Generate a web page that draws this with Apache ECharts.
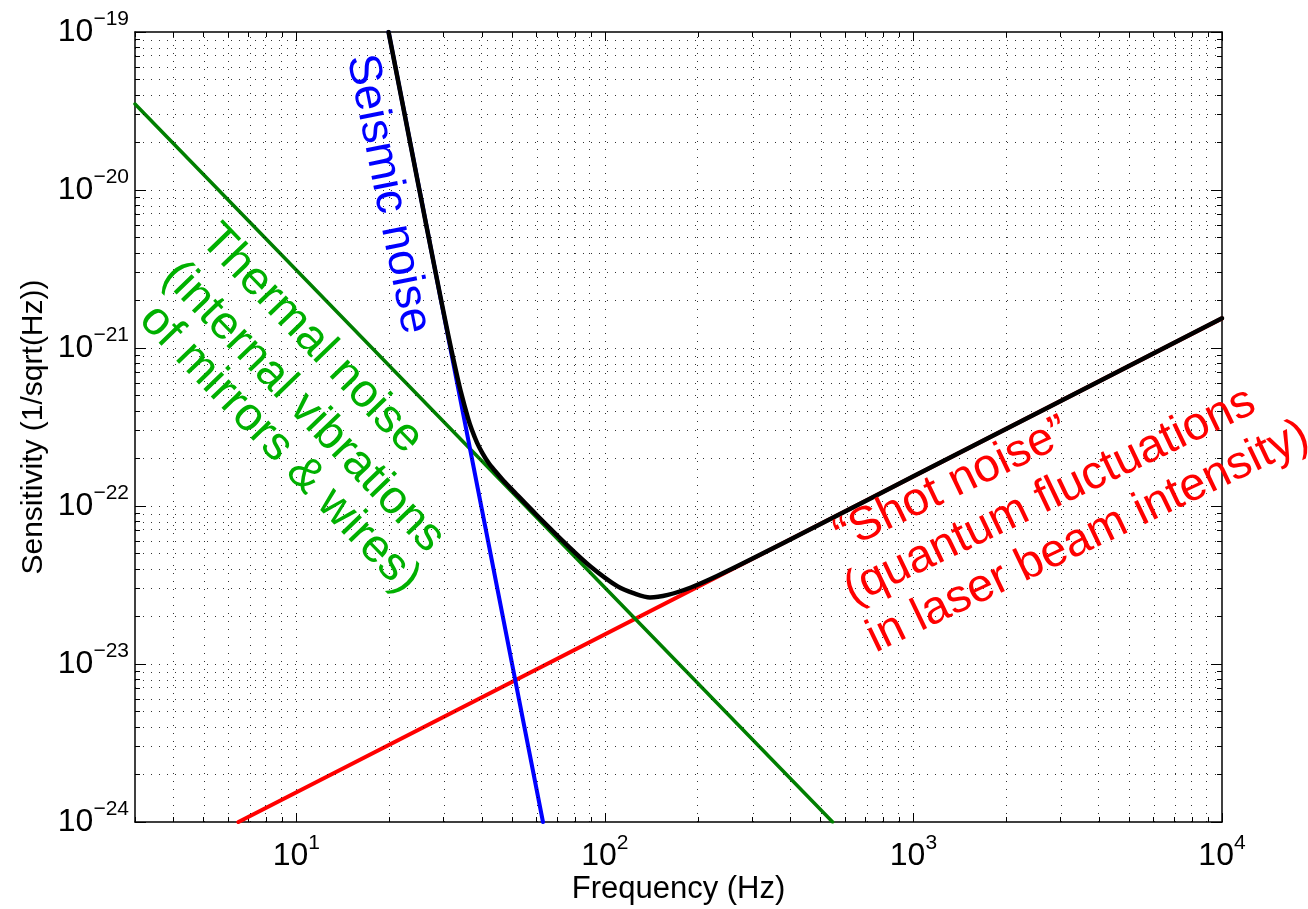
<!DOCTYPE html>
<html>
<head>
<meta charset="utf-8">
<script src="https://cdn.jsdelivr.net/npm/echarts@6/dist/echarts.min.js"></script>
<style>
html,body{margin:0;padding:0;background:#ffffff;}
#chart{width:1308px;height:909px;}
</style>
</head>
<body>
<div id="chart"></div>
<script>
// ---- data ----
const seismicFreq = [19.9, 63];
const seismicSens = [1e-19, 1e-24];
const thermalFreq = [3, 547];
const thermalSens = [3.5e-20, 1e-24];
const shotFreq = [6.49, 10000];
const shotSens = [1e-24, 1.54e-21];
const totalFreq = [19.9, 22, 25, 28, 31, 33, 34, 36, 37, 38.5, 40, 42, 44, 47, 50, 60, 75, 90, 110, 125, 140, 160, 190, 230, 300, 500, 1000, 10000];
const totalSens = [1e-19, 3.67e-20, 1.02e-20, 3.31e-21, 1.23e-21, 6.99e-22, 5.44e-22, 3.6e-22, 3.06e-22, 2.52e-22, 2.18e-22, 1.87e-22, 1.67e-22, 1.44e-22, 1.27e-22, 8.8e-23, 5.72e-23, 4.13e-23, 3.1e-23, 2.79e-23, 2.64e-23, 2.74e-23, 3.05e-23, 3.59e-23, 4.63e-23, 7.7e-23, 1.54e-22, 1.54e-21];
const xRange = [3, 10000];
const yRange = [1e-24, 1e-19];
const xTickExponents = [1, 2, 3, 4];
const yTickExponents = [-24, -23, -22, -21, -20, -19];
const xTitle = 'Frequency (Hz)';
const yTitle = 'Sensitivity (1/sqrt(Hz))';
const seismicLines = ['Seismic noise'];
const thermalLines = ['Thermal noise', '(internal vibrations', 'of mirrors & wires)'];
const shotLines = ['\u201CShot noise\u201D', '(quantum fluctuations', 'in laser beam intensity)'];

// ---- build ----
const L = Math.log10;
const toPts = (fs, ss) => fs.map((f, i) => [L(f), L(ss[i])]);
const xMin = L(xRange[0]), xMax = L(xRange[1]);
const yMin = L(yRange[0]), yMax = L(yRange[1]);

function decadeTicks(lo, hi, wantMajor) {
  const out = [];
  for (let d = Math.floor(lo) - 1; d <= Math.ceil(hi); d++) {
    for (let k = 1; k <= 9; k++) {
      const v = d + L(k);
      if (v >= lo - 1e-9 && v <= hi + 1e-9) {
        if ((k === 1) === wantMajor) out.push(v);
      }
    }
  }
  return out;
}
const xMajor = xTickExponents.slice();
const xMinor = decadeTicks(xMin, xMax, false);
const yMajor = yTickExponents.slice();
const yMinor = decadeTicks(yMin, yMax, false);

const FONT = "'Liberation Sans', Arial, Helvetica, sans-serif";
const sup = s => s.replace('-', '\u2212');
const richLbl = {
  b: { fontSize: 32, lineHeight: 46, fontFamily: FONT, color: '#000' },
  s: { fontSize: 21, lineHeight: 14, verticalAlign: 'top', fontFamily: FONT, color: '#000' }
};

function mkX(pos, vals, len, withLabels, showLine) {
  return {
    type: 'value', position: pos, min: xMin, max: xMax, gridIndex: 0,
    axisLine: { show: showLine, onZero: false, lineStyle: { color: '#000', width: 1.5 } },
    axisTick: { show: true, inside: true, length: len, customValues: vals, lineStyle: { color: '#000', width: 1 } },
    axisLabel: withLabels ? {
      show: true, customValues: xTickExponents, margin: 11,
      formatter: v => '{b|10}{s|' + sup(String(Math.round(v))) + '}', rich: richLbl
    } : { show: false },
    splitLine: { show: false },
    name: withLabels ? xTitle : '',
    nameLocation: 'middle', nameGap: 52, nameMoveOverlap: false,
    nameTextStyle: { fontSize: 31, fontFamily: FONT, color: '#000' }
  };
}
function mkY(pos, vals, len, withLabels, showLine) {
  return {
    type: 'value', position: pos, min: yMin, max: yMax, interval: 1, gridIndex: 0,
    axisLine: { show: showLine, onZero: false, lineStyle: { color: '#000', width: 1.5 } },
    axisTick: { show: true, inside: true, length: len, customValues: vals, lineStyle: { color: '#000', width: 1 } },
    axisLabel: withLabels ? {
      show: true, customValues: yTickExponents, margin: 6,
      formatter: v => '{b|10}{s|' + sup(String(Math.round(v))) + '}', rich: richLbl
    } : { show: false },
    splitLine: { show: false },
    name: withLabels ? yTitle : '',
    nameLocation: 'middle', nameGap: 86, nameMoveOverlap: false,
    nameTextStyle: { fontSize: 30, fontFamily: FONT, color: '#000' }
  };
}

const gridLines = [];
xMajor.concat(xMinor).forEach(v => { if (v > xMin + 1e-6 && v < xMax - 1e-6) gridLines.push({ xAxis: v }); });
yMajor.concat(yMinor).forEach(v => { if (v > yMin + 1e-6 && v < yMax - 1e-6) gridLines.push({ yAxis: v }); });

const lineSeries = (name, pts, color, width, z, smooth) => ({
  name, type: 'line', data: pts, xAxisIndex: 0, yAxisIndex: 0,
  showSymbol: false, symbol: 'none', clip: true, z, smooth: smooth || false,
  lineStyle: { color, width, cap: 'round', join: 'round' },
  animation: false, silent: true
});

const deg = Math.PI / 180;
function textEl(str, x, y, rotDeg, color, size, align) {
  return { type: 'text', x, y, rotation: rotDeg * deg, z: 10, silent: true,
    style: { text: str, fill: color, fontSize: size, fontFamily: FONT, align: align, verticalAlign: 'middle' } };
}
const thAnchors = [[208, 232], [170, 269], [147, 312]];
const shAnchors = [[838, 539], [847, 593], [870, 641]];

const graphics = [textEl(seismicLines[0], 388, 194, -78.6, '#0000ff', 46, 'center')];
thermalLines.forEach((s, i) => graphics.push(textEl(s, thAnchors[i][0], thAnchors[i][1], -46, '#00b000', 47, 'left')));
shotLines.forEach((s, i) => graphics.push(textEl(s, shAnchors[i][0], shAnchors[i][1], 25.5, '#ff0000', 47, 'left')));

const option = {
  backgroundColor: '#ffffff',
  animation: false,
  grid: { left: 135, right: 86, top: 32, bottom: 87, containLabel: false, outerBoundsMode: 'none' },
  xAxis: [
    mkX('bottom', xMajor, 9, true, true),
    mkX('bottom', xMinor, 5, false, false),
    mkX('top', xMajor, 9, false, true),
    mkX('top', xMinor, 5, false, false)
  ],
  yAxis: [
    mkY('left', yMajor, 11, true, true),
    mkY('left', yMinor, 5, false, false),
    mkY('right', yMajor, 11, false, true),
    mkY('right', yMinor, 5, false, false)
  ],
  series: [
    {
      type: 'line', data: [], xAxisIndex: 0, yAxisIndex: 0, symbol: 'none', z: 1, silent: true,
      markLine: {
        silent: true, symbol: ['none', 'none'], animation: false,
        label: { show: false },
        lineStyle: { color: 'rgba(0,0,0,0.8)', width: 1, type: [1, 7] },
        emphasis: { disabled: true },
        data: gridLines
      }
    },
    lineSeries('Shot', toPts(shotFreq, shotSens), '#ff0000', 4, 3),
    lineSeries('Thermal', toPts(thermalFreq, thermalSens), '#007f00', 3.5, 3),
    lineSeries('Seismic', toPts(seismicFreq, seismicSens), '#0000ff', 4, 3),
    lineSeries('Total', toPts(totalFreq, totalSens), '#000000', 4.5, 4, 0.3)
  ],
  graphic: graphics
};
const chart = echarts.init(document.getElementById('chart'), null, { renderer: 'canvas' });
chart.setOption(option);
</script>
</body>
</html>
